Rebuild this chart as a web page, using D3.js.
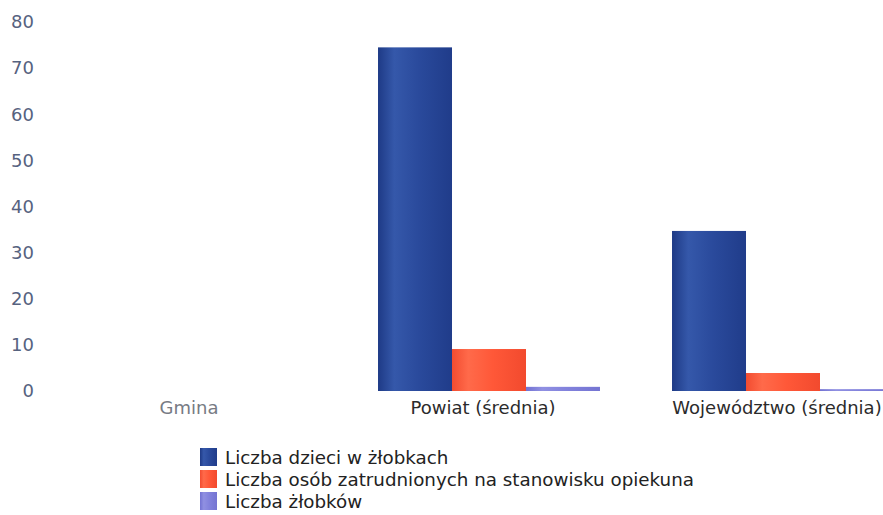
<!DOCTYPE html>
<html>
<meta charset="utf-8">
  <head>
    <script src="https://d3js.org/d3.v7.min.js"></script>
    <style>
      body { margin: 0; background: #fff; }
      text { font-family: "DejaVu Sans", Verdana, sans-serif; }
    </style>
  </head>
  <body>
    <div id="my_dataviz"></div>
    <script>

    // data
    var categories = ["Gmina", "Powiat (średnia)", "Województwo (średnia)"];
    var seriesNames = ["Liczba dzieci w żłobkach",
                       "Liczba osób zatrudnionych na stanowisku opiekuna",
                       "Liczba żłobków"];
    var dzieci   = [0, 74.5, 34.7];
    var opiekun  = [0, 9.1, 3.9];
    var zlobki   = [0, 0.9, 0.4];
    var yTicks   = [0, 10, 20, 30, 40, 50, 60, 70, 80];

    var series = [dzieci, opiekun, zlobki];
    var colors = [
      ["#1e3a86", "#3558aa", "#2a4a9c", "#203c8a"],
      ["#f24c30", "#ff6a4a", "#ff5838", "#f24a2e"],
      ["#7272d2", "#9090e2", "#8282dc", "#7474d2"]
    ];

    var W = 883, H = 515;
    var svg = d3.select("#my_dataviz")
      .append("svg")
        .attr("width", W)
        .attr("height", H);

    // gradients for the cylinder look
    var defs = svg.append("defs");
    colors.forEach(function(c, i) {
      var g = defs.append("linearGradient")
          .attr("id", "grad" + i)
          .attr("x1", "0%").attr("x2", "100%")
          .attr("y1", "0%").attr("y2", "0%");
      g.append("stop").attr("offset", "0%").attr("stop-color", c[0]);
      g.append("stop").attr("offset", "22%").attr("stop-color", c[1]);
      g.append("stop").attr("offset", "55%").attr("stop-color", c[2]);
      g.append("stop").attr("offset", "100%").attr("stop-color", c[3]);
    });

    var y = d3.scaleLinear()
        .domain([0, 80])
        .range([391, 22]);

    var x = d3.scaleBand()
        .domain(categories)
        .range([48, 930])
        .paddingInner(0.245)
        .paddingOuter(0.1225);

    var xs = d3.scaleBand()
        .domain([0, 1, 2])
        .range([0, x.bandwidth()]);

    // y axis (labels only)
    var yAxis = svg.append("g")
        .attr("transform", "translate(34,0)")
        .call(d3.axisLeft(y).tickValues(yTicks).tickSize(0).tickPadding(0));
    yAxis.select(".domain").remove();
    yAxis.selectAll("text")
        .style("font-size", "18px")
        .attr("fill", "#56627f");

    // bars
    series.forEach(function(vals, si) {
      svg.append("g")
        .selectAll("rect")
        .data(vals)
        .enter()
        .append("rect")
          .attr("x", function(d, i) { return x(categories[i]) + xs(si); })
          .attr("y", function(d) { return y(d); })
          .attr("width", xs.bandwidth())
          .attr("height", function(d) { return y(0) - y(d); })
          .attr("fill", "url(#grad" + si + ")");
    });

    // x labels
    var xAxis = svg.append("g")
        .attr("transform", "translate(-6,398)")
        .call(d3.axisBottom(x).tickSize(0).tickPadding(3));
    xAxis.select(".domain").remove();
    xAxis.selectAll("text")
        .style("font-size", "18px")
        .attr("fill", function(d, i) { return i == 0 ? "#777b84" : "#2b2b2b"; });

    // legend
    var legend = svg.append("g")
        .attr("transform", "translate(200,448)");
    seriesNames.forEach(function(name, i) {
      var row = legend.append("g").attr("transform", "translate(0," + (i * 22) + ")");
      row.append("rect")
        .attr("width", 17).attr("height", 18)
        .attr("fill", "url(#grad" + i + ")");
      row.append("text")
        .attr("x", 25).attr("y", 16)
        .style("font-size", "18.3px")
        .attr("fill", "#222")
        .text(name);
    });

    </script>
  </body>
</html>
